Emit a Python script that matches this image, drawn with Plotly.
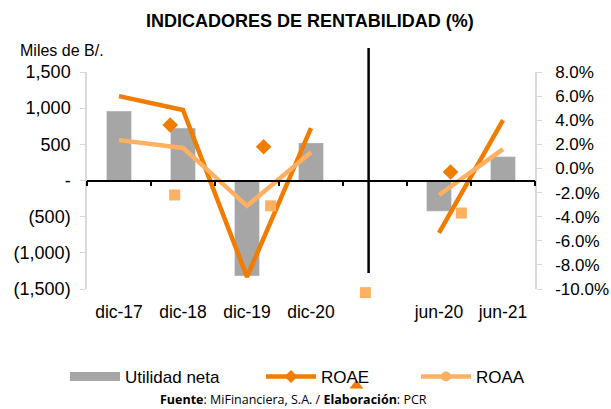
import plotly.graph_objects as go

categories = ["dic-17", "dic-18", "dic-19", "dic-20", "", "jun-20", "jun-21"]
utilidad_neta = [960, 725, -1320, 520, None, -425, 330]
roae = [6.0, 4.85, -9.0, 3.35, None, -5.35, 4.0]
roaa = [2.35, 1.7, -3.1, 1.35, None, -2.2, 1.6]

# displaced markers drawn by the source spreadsheet
roae_marker_x = [0.80, 2.26, 5.18, 3.71]
roae_marker_y = [3.6, 1.8, -0.3, -18.0]
roae_marker_sym = ["diamond", "diamond", "diamond", "triangle-up"]
roaa_marker_x = [0.87, 2.37, 5.35, 3.85]
roaa_marker_y = [-2.2, -3.1, -3.7, -10.3]

left_ticks = [-1500, -1000, -500, 0, 500, 1000, 1500]
left_ticktext = ["(1,500)", "(1,000)", "(500)", "-", "500", "1,000", "1,500"]
right_ticks = [-10, -8, -6, -4, -2, 0, 2, 4, 6, 8]
right_ticktext = ["-10.0%", "-8.0%", "-6.0%", "-4.0%", "-2.0%", "0.0%",
                  "2.0%", "4.0%", "6.0%", "8.0%"]

GRAY = "#A6A6A6"
DARK = "#F07C00"
LIGHT = "#FFB061"
AXG = "#D9D9D9"
FONT = "Liberation Sans, Arial, sans-serif"

W, H = 611, 409
ML, MR, MT, MB = 87, 76, 72, 10
PLOT_BOTTOM = 289  # pixel bottom of main plotting area
PAPER_H = H - MT - MB
PAPER_W = W - ML - MR


def py(pix):
    return (H - MB - pix) / PAPER_H


def px(pix):
    return (pix - ML) / PAPER_W


main_bottom = py(PLOT_BOTTOM)
y2_range = [-10, 8]
px_per_unit = (PLOT_BOTTOM - MT) / (y2_range[1] - y2_range[0])
y3_range = [y2_range[0] - (H - MB - PLOT_BOTTOM) / px_per_unit, y2_range[1]]

xpos = list(range(len(categories)))

fig = go.Figure()
fig.add_trace(go.Bar(x=xpos, y=utilidad_neta, marker_color=GRAY, width=0.39,
                     showlegend=False, name="Utilidad neta"))
fig.add_trace(go.Scatter(x=xpos, y=roae, yaxis="y2", mode="lines",
                         line=dict(color=DARK, width=4.5), showlegend=False,
                         connectgaps=False, name="ROAE"))
fig.add_trace(go.Scatter(x=xpos, y=roaa, yaxis="y2", mode="lines",
                         line=dict(color=LIGHT, width=4.5), showlegend=False,
                         connectgaps=False, name="ROAA"))
fig.add_trace(go.Scatter(x=roae_marker_x, y=roae_marker_y, xaxis="x3", yaxis="y3",
                         mode="markers",
                         marker=dict(color=DARK, size=12, symbol=roae_marker_sym),
                         cliponaxis=False, showlegend=False, hoverinfo="skip"))
fig.add_trace(go.Scatter(x=roaa_marker_x, y=roaa_marker_y, xaxis="x3", yaxis="y3",
                         mode="markers",
                         marker=dict(color=LIGHT, size=11, symbol="square"),
                         cliponaxis=False, showlegend=False, hoverinfo="skip"))
# axis-line helper trace on the overlay x axis
fig.add_trace(go.Scatter(x=[None], y=[None], xaxis="x2", yaxis="y",
                         showlegend=False, hoverinfo="skip"))
# legend entries
fig.add_trace(go.Scatter(x=[None], y=[None], mode="lines", name="Utilidad neta",
                         line=dict(color=GRAY, width=9), legend="legend"))
fig.add_trace(go.Scatter(x=[None], y=[None], mode="lines+markers", name="ROAE",
                         line=dict(color=DARK, width=4.5),
                         marker=dict(symbol="diamond", size=10, color=DARK), legend="legend2"))
fig.add_trace(go.Scatter(x=[None], y=[None], mode="lines+markers", name="ROAA",
                         line=dict(color=LIGHT, width=4.5),
                         marker=dict(symbol="circle", size=10, color=LIGHT), legend="legend3"))

fig.add_shape(type="line", xref="x", yref="paper", x0=3.9, x1=3.9,
              y0=py(273), y1=py(48), line=dict(color="black", width=2.5))

zero_pix = MT + (PLOT_BOTTOM - MT) / 2

leg = dict(orientation="h", font=dict(family=FONT, size=17, color="black"),
           bgcolor="rgba(0,0,0,0)", yanchor="middle", xanchor="left", y=py(377),
           itemwidth=50)
fig.update_layout(
    width=W, height=H,
    margin=dict(l=ML, r=MR, t=MT, b=MB, autoexpand=False),
    paper_bgcolor="white", plot_bgcolor="rgba(0,0,0,0)",
    font=dict(family=FONT, size=17, color="black"),
    xaxis=dict(range=[-0.5, 6.5], tickvals=xpos, ticktext=categories, ticks="",
               showline=False, showgrid=False, zeroline=False,
               tickfont=dict(size=17.5), ticklabelstandoff=10),
    xaxis2=dict(range=[-0.5, 6.5], overlaying="x", anchor="free", position=py(zero_pix),
                showline=True, linecolor="black", linewidth=1.5, ticks="outside",
                tickcolor="black", ticklen=5, tickwidth=1.5,
                tickvals=[i - 0.5 for i in range(len(categories) + 1)],
                showticklabels=False, showgrid=False, zeroline=False),
    xaxis3=dict(range=[-0.5, 6.5], domain=[0, 1], anchor="y3", visible=False),
    yaxis=dict(domain=[main_bottom, 1], range=[-1500, 1500], tickvals=left_ticks,
               ticktext=left_ticktext,
               showline=True, linecolor=AXG, linewidth=1.5, ticks="outside",
               tickcolor=AXG, ticklen=5, showgrid=False, zeroline=False,
               tickfont=dict(size=18), ticklabelstandoff=6),
    yaxis2=dict(range=y2_range, tickvals=right_ticks, ticktext=right_ticktext,
                overlaying="y", side="right", showline=True, linecolor=AXG,
                linewidth=1.5, ticks="outside", tickcolor=AXG, ticklen=5,
                showgrid=False, zeroline=False, tickfont=dict(size=17),
                ticklabelstandoff=10),
    yaxis3=dict(domain=[0, 1], range=y3_range, anchor="x3", visible=False),
    legend=dict(leg, x=px(65)),
    legend2=dict(leg, x=px(261)),
    legend3=dict(leg, x=px(416)),
    annotations=[
        dict(text="<b>INDICADORES DE RENTABILIDAD (%)</b>", xref="paper", yref="paper",
             x=px(310), y=py(21), xanchor="center", yanchor="middle",
             showarrow=False, font=dict(family=FONT, size=18, color="black")),
        dict(text="Miles de B/.", xref="paper", yref="paper",
             x=px(18), y=py(50), xanchor="left", yanchor="middle",
             showarrow=False, font=dict(family=FONT, size=16, color="black")),
        dict(text="<b>Fuente</b>: MiFinanciera, S.A. / <b>Elaboración</b>: PCR",
             xref="paper", yref="paper", x=px(293), y=py(400),
             xanchor="center", yanchor="middle", showarrow=False,
             font=dict(family="Open Sans, Noto Sans, sans-serif", size=12.5, color="black")),
    ],
)
fig.write_html("out.html", config={"displayModeBar": False},
               post_script="document.body.style.margin='0';")
